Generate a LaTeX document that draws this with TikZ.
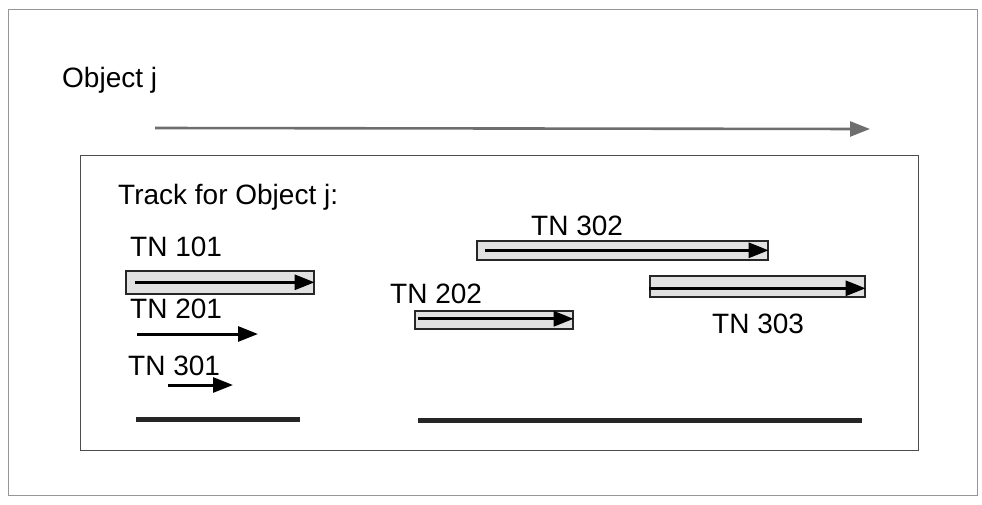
\documentclass[tikz,border=0pt]{standalone}
\usepackage{fontspec}
\setmainfont{Liberation Sans}
\usepackage{tikz}
\usetikzlibrary{positioning,arrows.meta}
\definecolor{frameGray}{RGB}{150,150,150}
\definecolor{barFill}{RGB}{225,225,225}
\definecolor{axisGray}{RGB}{110,110,110}

\begin{document}
\begin{tikzpicture}[x=1pt, y=-1pt,
  lbl/.style={font=\fontsize{28}{32}\selectfont, inner sep=0pt, anchor=west},
  tnbar/.style={draw=black!85, fill=barFill, line width=1.6pt, anchor=north west, inner sep=0pt},
  tnarrow/.style={-{Triangle[length=20pt,width=15pt]}, line width=3pt, black},
  axisarrow/.style={-{Triangle[length=20pt,width=15pt]}, line width=2.6pt, axisGray},
  spanline/.style={line width=5pt, black!85},
]
\useasboundingbox (0,0) rectangle (982,504);

% ===================================================================
% OUTER FRAME and object axis
% ===================================================================
\node[draw=frameGray, line width=1pt, anchor=north west, minimum width=969, minimum height=486, inner sep=0pt] (outer) at (8,9) {};
\node[lbl] (objlbl) at (62,80) {Object j};
\coordinate (axisA) at (155,128);
\coordinate (axisB) at (870,129);
\draw[axisarrow] (axisA) -- (axisB);

% ===================================================================
% TRACK BOX
% ===================================================================
\node[draw=black!70, line width=1.2pt, anchor=north west, minimum width=838, minimum height=295, inner sep=0pt] (track) at (80,155) {};
\node[lbl] (tracklbl) at (118,197) {Track for Object j:};

% Left group
\node[lbl] (lbl101) at (130,247) {TN 101};
\node[tnbar, minimum width=188, minimum height=23] (bar101) at (125,270) {};
\draw[tnarrow] ([xshift=10pt]bar101.west) -- (bar101.east);

\node[lbl] (lbl201) at (130,309) {TN 201};
\coordinate (a201) at (137,334);
\coordinate (b201) at (258,334);
\draw[tnarrow] (a201) -- (b201);

\node[lbl] (lbl301) at (128,366) {TN 301};
\coordinate (a301) at (168,385);
\coordinate (b301) at (233,385);
\draw[tnarrow] (a301) -- (b301);

% Right group
\node[lbl] (lbl302) at (531,226) {TN 302};
\node[tnbar, minimum width=291, minimum height=19] (bar302) at (476,240) {};
\draw[tnarrow] ([xshift=9pt]bar302.west) -- (bar302.east);

\node[lbl] (lbl202) at (390,294) {TN 202};
\node[tnbar, minimum width=158, minimum height=18] (bar202) at (414,310) {};
\draw[tnarrow] ([xshift=4pt,yshift=1pt]bar202.west) -- ([yshift=1pt]bar202.east);

\node[tnbar, minimum width=215, minimum height=21] (bar303) at (649,275) {};
\draw[tnarrow] ([yshift=-2pt]bar303.west) -- ([yshift=-2pt]bar303.east);
\node[lbl] (lbl303) at (712,324) {TN 303};

% Spans
\coordinate (spanLa) at (136,419);
\coordinate (spanLb) at (300,419);
\coordinate (spanRa) at (418,420);
\coordinate (spanRb) at (862,420);
\draw[spanline] (spanLa) -- (spanLb);
\draw[spanline] (spanRa) -- (spanRb);
\end{tikzpicture}
\end{document}
